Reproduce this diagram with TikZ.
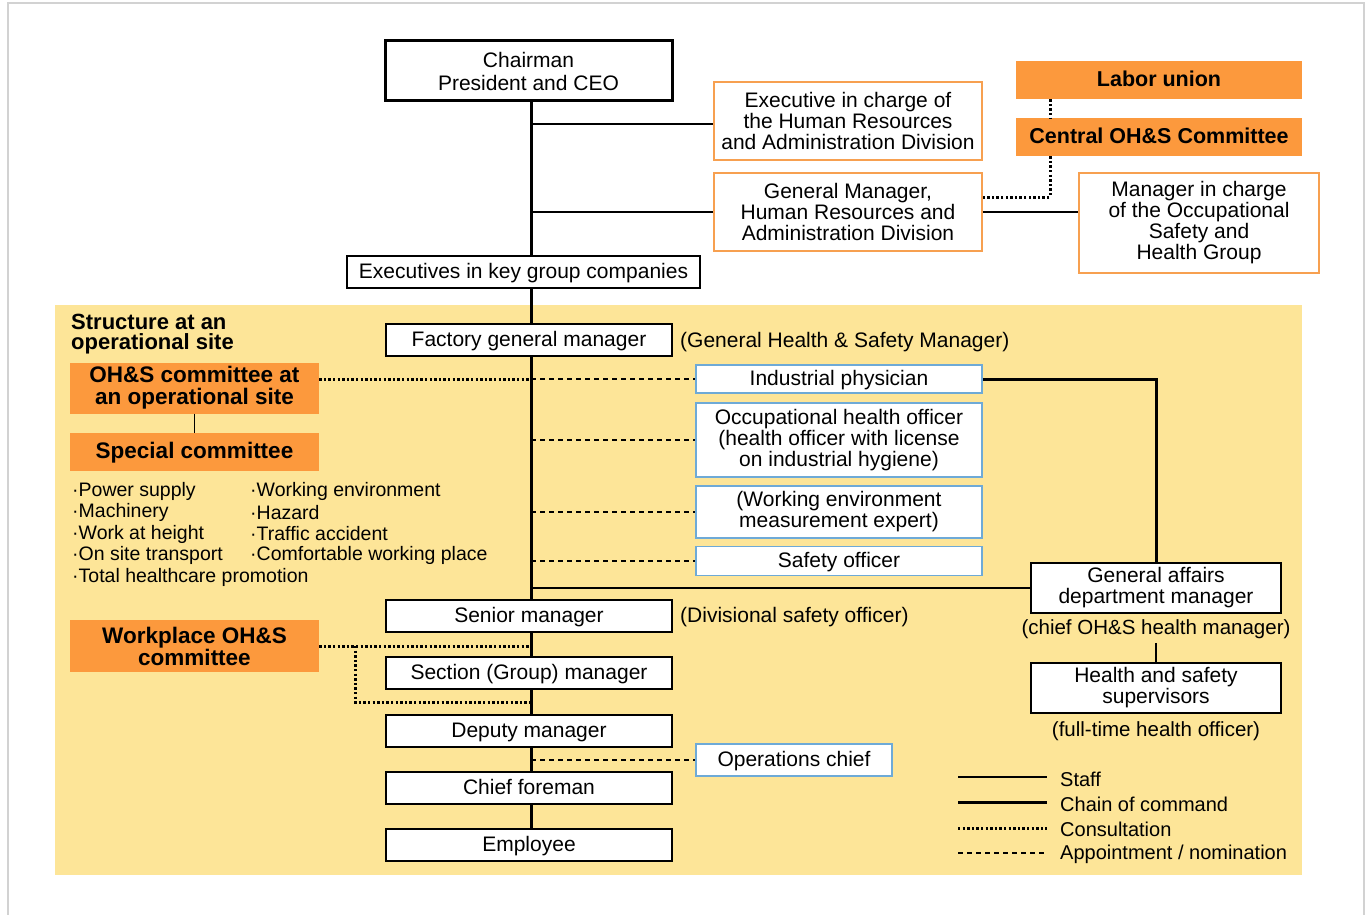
\documentclass[tikz,border=0pt]{standalone}
\usepackage{fontspec}
\usetikzlibrary{calc}
\setmainfont{Liberation Sans}
\definecolor{ybg}{RGB}{253,229,152}
\definecolor{ofc}{RGB}{252,153,61}
\definecolor{oline}{RGB}{247,160,80}
\definecolor{bline}{RGB}{110,170,215}
\definecolor{frame}{RGB}{210,210,210}
\newcommand\fsz[1]{\fontsize{#1}{#1}\selectfont}
\tikzset{
  base/.style={inner sep=0pt, align=center, fill=white, font=\fsz{21}},
  bbox/.style={base, draw=black, line width=2pt},
  obox/.style={base, draw=oline, line width=1.5pt},
  ubox/.style={base, draw=bline, line width=1.5pt},
  ofill/.style={inner sep=0pt, align=center, fill=ofc, font=\bfseries\fsz{21.5}},
  lbl/.style={inner sep=0pt, font=\fsz{20.5}},
  bul/.style={inner sep=0pt, anchor=west, font=\fsz{19.5}},
  cmd/.style={line width=3pt},
  staff/.style={line width=1.4pt},
  cons/.style={line width=3pt, dash pattern=on 2.4pt off 2.2pt},
  appt/.style={line width=1.4pt, dash pattern=on 5pt off 4pt},
  sl/.style={text height=15pt, text depth=1.5pt},
}
\begin{document}
\begin{tikzpicture}[x=1pt,y=-1pt]
\useasboundingbox (0,0) rectangle (1368,915);
\draw[frame, line width=1.2pt] (8,915) -- (8,3) -- (1364,3) -- (1364,915);
\fill[ybg] (55,305) rectangle (1302,875);

% top part
\node[bbox, line width=3pt, minimum width=287pt, minimum height=60pt, font=\fontsize{21}{23}\selectfont] (chair) at (528.5,71) {Chairman\\President and CEO};
\node[obox, minimum width=268pt, minimum height=78pt] (exhr) at (848,121) {Executive in charge of\\the Human Resources\\and Administration Division};
\node[obox, minimum width=268pt, minimum height=78pt] (gmhr) at (848,212) {General Manager,\\Human Resources and\\Administration Division};
\node[obox, minimum width=240pt, minimum height=100pt] (mosh) at (1199,223) {Manager in charge\\of the Occupational\\Safety and\\Health Group};
\node[ofill, sl, minimum width=286pt, minimum height=38pt] (labor) at (1159,80) {Labor union};
\node[ofill, sl, minimum width=286pt, minimum height=38pt] (central) at (1159,137) {Central OH\&S Committee};
\node[bbox, sl, line width=1.5pt, minimum width=353pt, minimum height=32pt] (execs) at (523.5,272) {Executives in key group companies};

% site structure
\node[inner sep=0pt, anchor=north west, align=left, font=\bfseries\fontsize{22}{20}\selectfont] (struct) at (71,314) {Structure at an\\operational site};
\tikzset{one/.style={bbox, sl, minimum width=286pt, minimum height=32pt}}
\node[one] (fgm) at (529,340) {Factory general manager};
\node[inner sep=0pt, anchor=west, font=\fsz{21}] (ghsm) at (680,342) {(General Health \& Safety Manager)};
\node[ofill, font=\bfseries\fontsize{22.5}{22}\selectfont, minimum width=249pt, minimum height=51pt] (ohsc) at (194.5,388) {OH\&S committee at\\an operational site};
\node[ofill, sl, font=\bfseries\fsz{22.5}, minimum width=249pt, minimum height=38pt] (special) at (194.5,452) {Special committee};
\node[bul] (b1) at (72,491) {·Power supply};
\node[bul] (b2) at (72,512.5) {·Machinery};
\node[bul] (b3) at (72,534) {·Work at height};
\node[bul] (b4) at (72,555.5) {·On site transport};
\node[bul] (b5) at (72,577) {·Total healthcare promotion};
\node[bul] (b6) at (250,491) {·Working environment};
\node[bul] (b7) at (250,512.5) {·Hazard};
\node[bul] (b8) at (250,534) {·Traffic accident};
\node[bul] (b9) at (250,555.5) {·Comfortable working place};
\node[ofill, font=\bfseries\fontsize{22.5}{22}\selectfont, minimum width=249pt, minimum height=52pt] (workplace) at (194.5,646) {Workplace OH\&S\\committee};

\node[ubox, sl, minimum width=286pt, minimum height=28pt] (physician) at (839,379) {Industrial physician};
\node[ubox, minimum width=286pt, minimum height=74pt] (occ) at (839,440) {Occupational health officer\\(health officer with license\\on industrial hygiene)};
\node[ubox, minimum width=286pt, minimum height=52pt] (wem) at (839,512) {(Working environment\\measurement expert)};
\node[ubox, sl, minimum width=286pt, minimum height=29pt] (safety) at (839,561) {Safety officer};

\node[one] (senior) at (529,616) {Senior manager};
\node[inner sep=0pt, anchor=west, font=\fsz{21}] (divso) at (680,617) {(Divisional safety officer)};
\node[one] (section) at (529,673) {Section (Group) manager};
\node[one] (deputy) at (529,731) {Deputy manager};
\node[one] (chief) at (529,788) {Chief foreman};
\node[one] (employee) at (529,845) {Employee};
\node[ubox, sl, minimum width=196pt, minimum height=32pt] (ops) at (794,760) {Operations chief};

\node[bbox, minimum width=250pt, minimum height=50pt] (gad) at (1156,588) {General affairs\\department manager};
\node[lbl] (chieflbl) at (1156,629) {(chief OH\&S health manager)};
\node[bbox, minimum width=250pt, minimum height=50pt] (hss) at (1156,688) {Health and safety\\supervisors};
\node[lbl] (ftlbl) at (1156,731) {(full-time health officer)};

% coordinates
\coordinate (spine) at (531,0);
\coordinate (cbend) at (1050,197);
\coordinate (wbend) at (355,702);

% chain of command
\draw[cmd] (chair.south -| spine) -- (execs.north -| spine);
\draw[cmd] (execs.south -| spine) -- (fgm.north -| spine);
\draw[cmd] (fgm.south -| spine) -- (senior.north -| spine);
\draw[cmd] (senior.south -| spine) -- (section.north -| spine);
\draw[cmd] (section.south -| spine) -- (deputy.north -| spine);
\draw[cmd] (deputy.south -| spine) -- (chief.north -| spine);
\draw[cmd] (chief.south -| spine) -- (employee.north -| spine);
\draw[cmd] (physician.east) -- (physician.east -| gad.north) -- (gad.north);

% staff
\draw[staff] ($(spine |- exhr.west)+(0,3)$) -- ($(exhr.west)+(0,3)$);
\draw[staff] (spine |- gmhr.west) -- (gmhr.west);
\draw[staff] (gmhr.east) -- (gmhr.east -| mosh.west);
\draw[staff] (spine |- gad.west) -- (gad.west);
\draw[staff] ($(chieflbl.south)+(0,4)$) -- (hss.north);
\draw[staff] (ohsc.south) -- (special.north);

% consultation
\draw[cons] (labor.south -| cbend) -- (central.north -| cbend);
\draw[cons] (central.south -| cbend) -- (cbend) -- (cbend -| gmhr.east);
\draw[cons] (ohsc.east |- physician.west) -- (spine |- physician.west);
\draw[cons] (workplace.east) -- (workplace.east -| spine);
\draw[cons] (workplace.east -| wbend) -- (wbend) -- (wbend -| spine);

% appointment
\draw[appt] (spine |- physician.west) -- (physician.west);
\draw[appt] (spine |- occ.west) -- (occ.west);
\draw[appt] (spine |- wem.west) -- (wem.west);
\draw[appt] (spine |- safety.west) -- (safety.west);
\draw[appt] (spine |- ops.west) -- (ops.west);

% legend
\coordinate (l1a) at (958,777); \coordinate (l1b) at (1047,777);
\coordinate (l2a) at (958,802); \coordinate (l2b) at (1047,802);
\coordinate (l3a) at (958,828); \coordinate (l3b) at (1047,828);
\coordinate (l4a) at (958,853); \coordinate (l4b) at (1047,853);
\draw[staff] (l1a) -- (l1b);
\draw[cmd] (l2a) -- (l2b);
\draw[cons] (l3a) -- (l3b);
\draw[appt] (l4a) -- (l4b);
\node[lbl, anchor=west, font=\fsz{20}] (t1) at (1060,779) {Staff};
\node[lbl, anchor=west, font=\fsz{20}] (t2) at (1060,804) {Chain of command};
\node[lbl, anchor=west, font=\fsz{20}] (t3) at (1060,829) {Consultation};
\node[lbl, anchor=west, font=\fsz{20}] (t4) at (1060,854) {Appointment / nomination};
\end{tikzpicture}
\end{document}
